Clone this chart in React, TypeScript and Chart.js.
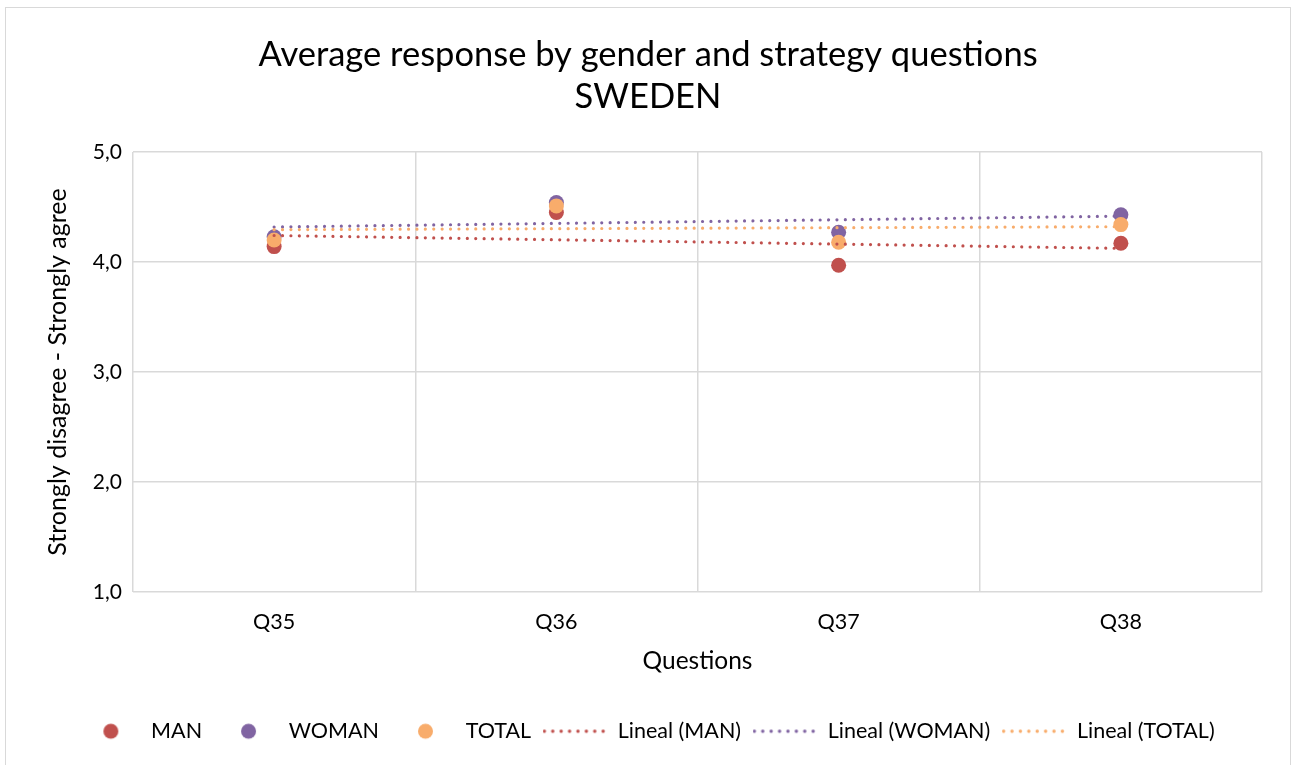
import { useEffect, useRef } from "react";
import { Chart, registerables } from "chart.js";

Chart.register(...registerables);

const categories = ["Q35", "Q36", "Q37", "Q38"];
const manValues = [4.14, 4.45, 3.97, 4.17];
const womanValues = [4.23, 4.54, 4.27, 4.43];
const totalValues = [4.2, 4.51, 4.18, 4.34];
const yTickValues = [1, 2, 3, 4, 5];
const seriesNames = ["MAN", "WOMAN", "TOTAL"];
const trendNames = ["Lineal (MAN)", "Lineal (WOMAN)", "Lineal (TOTAL)"];
const seriesColors = ["#C0504D", "#8064A2", "#F8AC6B"];
const titleLines = ["Average response by gender and strategy questions", "SWEDEN"];
const xTitle = "Questions";
const yTitle = "Strongly disagree - Strongly agree";

const FONT = "Lato, 'Open Sans', sans-serif";
const TEXT = "#000000";
const GRID = "#d9d9d9";

function linearTrend(values: number[]): number[] {
  const n = values.length;
  const xs = values.map((_, i) => i + 1);
  const mx = xs.reduce((a, b) => a + b, 0) / n;
  const my = values.reduce((a, b) => a + b, 0) / n;
  let num = 0;
  let den = 0;
  for (let i = 0; i < n; i++) {
    num += (xs[i] - mx) * (values[i] - my);
    den += (xs[i] - mx) * (xs[i] - mx);
  }
  const slope = num / den;
  return xs.map((x) => my + slope * (x - mx));
}

function makeCircleIcon(color: string): HTMLCanvasElement {
  const c = document.createElement("canvas");
  c.width = 59;
  c.height = 18;
  const ctx = c.getContext("2d")!;
  ctx.fillStyle = color;
  ctx.beginPath();
  ctx.arc(29.5, 9, 7.5, 0, Math.PI * 2);
  ctx.fill();
  return c;
}

function makeDotsIcon(color: string): HTMLCanvasElement {
  const c = document.createElement("canvas");
  c.width = 70;
  c.height = 18;
  const ctx = c.getContext("2d")!;
  ctx.fillStyle = color;
  for (let x = 1.8; x <= 66; x += 8.4) {
    ctx.beginPath();
    ctx.arc(x, 9, 1.7, 0, Math.PI * 2);
    ctx.fill();
  }
  return c;
}

export default function App() {
  const ref = useRef<HTMLCanvasElement>(null);

  useEffect(() => {
    const canvas = ref.current;
    if (!canvas) return;
    const seriesValues = [manValues, womanValues, totalValues];
    const icons = [
      ...seriesColors.map((c) => makeCircleIcon(c)),
      ...seriesColors.map((c) => makeDotsIcon(c)),
    ];

    const pointSets = seriesValues.map((vals, i) => ({
      label: seriesNames[i],
      data: vals,
      showLine: false,
      pointRadius: 7.5,
      pointHoverRadius: 7.5,
      pointBorderWidth: 0,
      pointBackgroundColor: seriesColors[i],
      backgroundColor: seriesColors[i],
      borderColor: seriesColors[i],
      order: 6 - i,
    }));
    const trendSets = seriesValues.map((vals, i) => ({
      label: trendNames[i],
      data: linearTrend(vals),
      pointRadius: 0,
      pointHoverRadius: 0,
      borderColor: seriesColors[i],
      backgroundColor: seriesColors[i],
      borderWidth: 3.2,
      borderDash: [0.001, 8.4],
      borderCapStyle: "round",
      tension: 0,
      fill: false,
      order: 3 - i,
    }));

    const chart = new Chart(canvas, {
      type: "line",
      data: {
        labels: categories,
        datasets: [...pointSets, ...trendSets] as any,
      },
      options: {
        responsive: false,
        animation: false,
        devicePixelRatio: 1,
        layout: { padding: { left: 34, right: 34, top: 0, bottom: 13 } },
        plugins: {
          title: {
            display: true,
            text: titleLines,
            color: TEXT,
            font: { family: FONT, size: 34.5, weight: "normal", lineHeight: "42px" } as any,
            padding: { top: 34, bottom: 34 },
          },
          legend: {
            position: "bottom",
            labels: {
              usePointStyle: true,
              pointStyleWidth: 59,
              padding: 17,
              color: TEXT,
              font: { family: FONT, size: 21.5 },
              generateLabels: (ch: any) =>
                ch.data.datasets.map((ds: any, i: number) => ({
                  text: ds.label,
                  fillStyle: ds.borderColor,
                  strokeStyle: ds.borderColor,
                  lineWidth: 0,
                  hidden: !ch.isDatasetVisible(i),
                  datasetIndex: i,
                  pointStyle: icons[i],
                  fontColor: TEXT,
                })),
            },
          },
          tooltip: { enabled: false },
        },
        scales: {
          x: {
            offset: true,
            grid: { offset: true, color: GRID, lineWidth: 1.5, drawTicks: false },
            border: { display: false },
            ticks: { padding: 17.4, color: TEXT, font: { family: FONT, size: 21.5 } },
            title: {
              display: true,
              text: xTitle,
              color: TEXT,
              font: { family: FONT, size: 24.5 },
              padding: { top: 10, bottom: 27.8 },
            },
            afterFit: (scale: any) => {
              scale.height = 111.5;
            },
          },
          y: {
            min: 1,
            max: 5,
            afterBuildTicks: (scale: any) => {
              scale.ticks = yTickValues.map((v) => ({ value: v }));
            },
            afterFit: (scale: any) => {
              scale.width = 99;
            },
            grid: { color: GRID, lineWidth: 1.5, drawTicks: false },
            border: { display: false },
            ticks: {
              padding: 11,
              color: TEXT,
              font: { family: FONT, size: 21 },
              callback: (v: any) => Number(v).toFixed(1).replace(".", ","),
            },
            title: {
              display: true,
              text: yTitle,
              color: TEXT,
              font: { family: FONT, size: 25 },
              padding: { top: 9, bottom: 0 },
            },
          },
        },
      },
    });
    return () => chart.destroy();
  }, []);

  return (
    <div style={{ position: "absolute", left: 0, top: 0, width: 1296, height: 765, overflow: "hidden", background: "#fff" }}>
      <div
        style={{
          position: "absolute",
          left: 5,
          top: 7,
          width: 1286,
          height: 770,
          border: "1.5px solid #d9d9d9",
          boxSizing: "border-box",
        }}
      />
      <canvas ref={ref} width={1296} height={765} style={{ position: "absolute", left: 0, top: 0 }} />
    </div>
  );
}
